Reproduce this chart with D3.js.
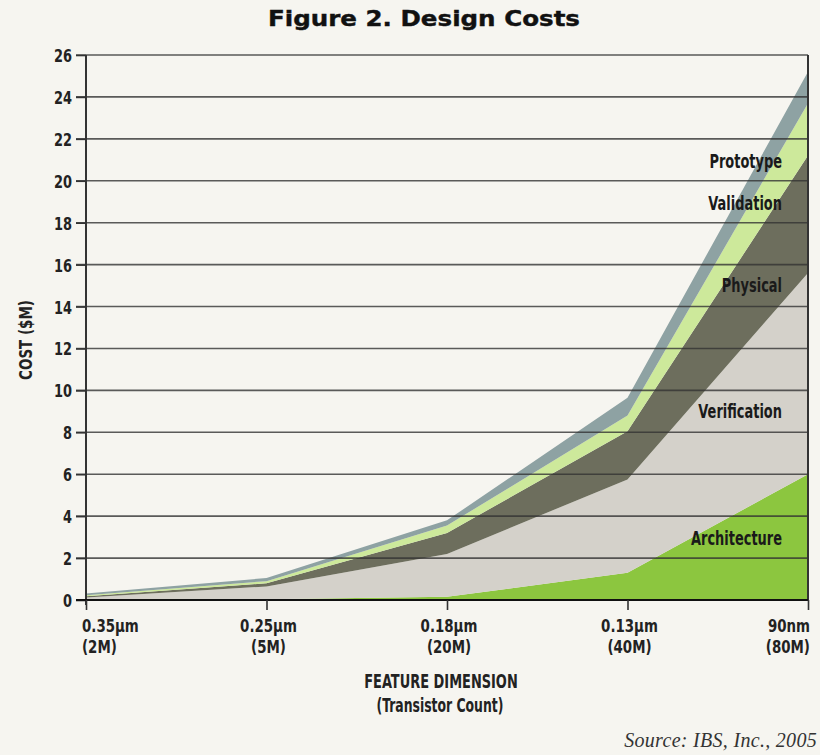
<!DOCTYPE html>
<html><head><meta charset="utf-8">
<script src="https://cdn.jsdelivr.net/npm/d3@7"></script>
<style>
html,body{margin:0;padding:0;background:#f6f5f0;}
svg{display:block;}
.cond{font-family:"DejaVu Sans Condensed","DejaVu Sans",sans-serif;font-stretch:condensed;font-weight:bold;}
</style></head>
<body>
<svg id="chart" width="820" height="755"></svg>
<script>
const categories = ["0.35µm", "0.25µm", "0.18µm", "0.13µm", "90nm"];
const transistorCounts = ["(2M)", "(5M)", "(20M)", "(40M)", "(80M)"];
const seriesNames = ["Architecture", "Verification", "Physical", "Validation", "Prototype"];
const architecture = [0.02, 0.03, 0.15, 1.3, 6.0];
const verification = [0.10, 0.62, 2.05, 4.45, 9.6];
const physical = [0.06, 0.15, 1.0, 2.3, 5.6];
const validation = [0.05, 0.10, 0.35, 0.75, 2.5];
const prototype = [0.08, 0.15, 0.25, 0.85, 1.5];
const yTicks = [0, 2, 4, 6, 8, 10, 12, 14, 16, 18, 20, 22, 24, 26];

(function () {
const seriesValues = {Architecture: architecture, Verification: verification, Physical: physical, Validation: validation, Prototype: prototype};
const colors = {Architecture: "#8cc63f", Verification: "#d4d1ca", Physical: "#6d6e5d", Validation: "#cde99b", Prototype: "#8ea2a3"};
const labelY = {Architecture: 538, Verification: 411, Physical: 285, Validation: 203, Prototype: 161};

function squeeze(sel, factor) {
  sel.each(function () {
    const w = this.getComputedTextLength();
    d3.select(this).attr("textLength", w * factor).attr("lengthAdjust", "spacingAndGlyphs");
  });
}

const table = categories.map((c, i) => {
  const row = {cat: c};
  seriesNames.forEach(s => row[s] = seriesValues[s][i]);
  return row;
});

const svg = d3.select("#chart");
const mLeft = 86, mRight = 808, mTop = 55, mBottom = 600;
const x = d3.scalePoint().domain(categories).range([mLeft, mRight]);
const y = d3.scaleLinear().domain([0, 26]).range([mBottom, mTop]);

svg.append("text").attr("x", 424).attr("y", 26).attr("text-anchor", "middle")
  .attr("font-family", "DejaVu Sans, sans-serif").attr("font-weight", "bold")
  .attr("font-size", 21).attr("fill", "#111").attr("stroke", "#111").attr("stroke-width", 0.4)
  .attr("textLength", 312).attr("lengthAdjust", "spacingAndGlyphs")
  .text("Figure 2. Design Costs");

const stack = d3.stack().keys(seriesNames)(table);
const area = d3.area().x(d => x(d.data.cat)).y0(d => y(d[0])).y1(d => y(d[1]));
svg.append("g").selectAll("path").data(stack).join("path")
  .attr("d", area).attr("fill", d => colors[d.key]);

svg.append("g").selectAll("line").data(yTicks.filter(t => t > 0)).join("line")
  .attr("x1", mLeft - 10).attr("x2", mRight).attr("y1", d => y(d)).attr("y2", d => y(d))
  .attr("stroke", "#333").attr("stroke-opacity", 0.8).attr("stroke-width", 1.6);

const yAxis = d3.axisLeft(y).tickValues(yTicks).tickSize(10).tickPadding(4);
const gy = svg.append("g").attr("transform", `translate(${mLeft},0)`).call(yAxis);
gy.select(".domain").attr("stroke", "#333").attr("stroke-width", 2).attr("d", `M0,${mTop}V${mBottom + 5}`);
gy.selectAll(".tick line").attr("stroke", "#333").attr("stroke-width", 1.6);
gy.selectAll(".tick text").attr("class", "cond").attr("font-size", 18)
  .attr("fill", "#222").attr("dy", "0.36em");
squeeze(gy.selectAll(".tick text"), 0.8);

svg.append("line").attr("x1", mRight).attr("x2", mRight).attr("y1", mTop).attr("y2", mBottom)
  .attr("stroke", "#333").attr("stroke-width", 2);

const xAxis = d3.axisBottom(x).tickSize(10).tickFormat("");
const gx = svg.append("g").attr("transform", `translate(0,${mBottom})`).call(xAxis);
gx.select(".domain").attr("stroke", "#111").attr("stroke-width", 2.2).attr("d", `M${mLeft - 10},0H${mRight}`);
gx.selectAll(".tick line").attr("stroke", "#333").attr("stroke-width", 1.6);

const anchorFor = i => i === 0 ? "start" : (i === categories.length - 1 ? "end" : "middle");
const dxFor = i => i === 0 ? -4 : 2;
const xl = svg.append("g");
categories.forEach((c, i) => {
  const t = xl.append("text").attr("class", "cond").attr("text-anchor", anchorFor(i))
    .attr("font-size", 17.5).attr("fill", "#222");
  t.append("tspan").attr("x", x(c) + dxFor(i)).attr("y", 632).text(c);
  t.append("tspan").attr("x", x(c) + dxFor(i)).attr("y", 653).text(transistorCounts[i]);
});
squeeze(xl.selectAll("tspan"), 0.85);

const t1 = svg.append("text").attr("class", "cond").attr("x", 441).attr("y", 688).attr("text-anchor", "middle")
  .attr("font-size", 20).attr("fill", "#222").text("FEATURE DIMENSION");
const t2 = svg.append("text").attr("class", "cond").attr("x", 440).attr("y", 712).attr("text-anchor", "middle")
  .attr("font-size", 20).attr("fill", "#222").text("(Transistor Count)");
squeeze(t1, 0.72);
squeeze(t2, 0.69);
const t3 = svg.append("text").attr("class", "cond").attr("transform", "translate(32,340) rotate(-90)")
  .attr("text-anchor", "middle").attr("font-size", 18).attr("fill", "#222")
  .text("COST ($M)");
squeeze(t3, 0.83);

const sl = svg.append("g").selectAll("text").data(seriesNames).join("text")
  .attr("class", "cond").attr("x", 782).attr("y", d => labelY[d] + 7)
  .attr("text-anchor", "end").attr("font-size", 20).attr("fill", "#1a1a1a")
  .text(d => d);
squeeze(sl, 0.72);

svg.append("text").attr("x", 817).attr("y", 747).attr("text-anchor", "end")
  .attr("font-family", "Liberation Serif, serif").attr("font-style", "italic")
  .attr("font-size", 20).attr("letter-spacing", 0.3).attr("fill", "#333").text("Source: IBS, Inc., 2005");
})();
</script>
</body></html>
